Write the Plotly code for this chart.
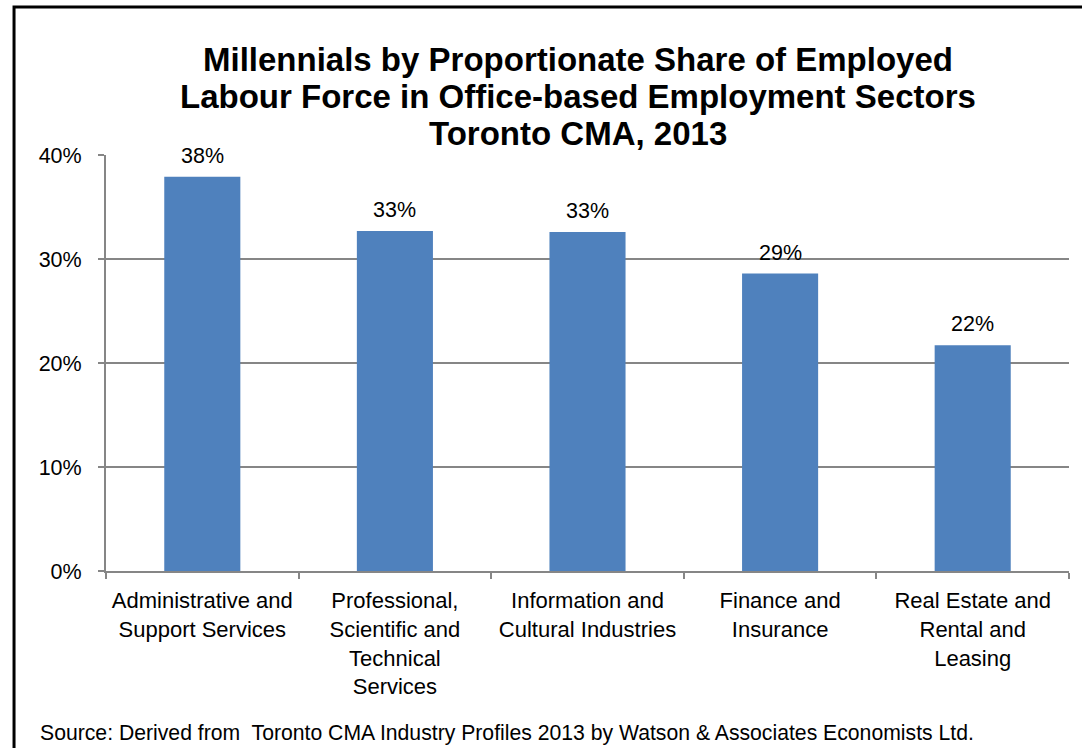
import plotly.graph_objects as go

sectors = [
    "Administrative and<br>Support Services",
    "Professional,<br>Scientific and<br>Technical<br>Services",
    "Information and<br>Cultural Industries",
    "Finance and<br>Insurance",
    "Real Estate and<br>Rental and<br>Leasing",
]
share = [0.379, 0.327, 0.326, 0.286, 0.217]
y_ticks = [0, 0.1, 0.2, 0.3, 0.4]
y_tick_labels = ["0%", "10%", "20%", "30%", "40%"]
title_lines = [
    "Millennials by Proportionate Share of Employed",
    "Labour Force in Office-based Employment Sectors",
    "Toronto CMA, 2013",
]
source_note = "Source: Derived from  Toronto CMA Industry Profiles 2013 by Watson & Associates Economists Ltd."

FONT = "Liberation Sans, Arial, sans-serif"
AXIS_GREY = "#868686"

fig = go.Figure(
    go.Bar(
        x=sectors,
        y=share,
        marker=dict(color="#4f81bd", line=dict(width=0)),
        cliponaxis=False,
    )
)

fig.update_layout(
    width=1082,
    height=748,
    margin=dict(l=106, r=13, t=155, b=177),
    paper_bgcolor="white",
    plot_bgcolor="white",
    bargap=0.605,
    showlegend=False,
    font=dict(family=FONT, color="#000000"),
    xaxis=dict(
        showline=True,
        linecolor=AXIS_GREY,
        linewidth=2,
        ticks="outside",
        tickson="boundaries",
        ticklen=6,
        tickcolor=AXIS_GREY,
        tickwidth=2,
        ticklabelstandoff=9,
        tickfont=dict(family=FONT, size=22, color="#000000"),
        showgrid=False,
    ),
    yaxis=dict(
        range=[0, 0.4],
        tickvals=y_ticks,
        ticktext=y_tick_labels,
        showline=True,
        linecolor=AXIS_GREY,
        linewidth=2,
        ticks="outside",
        ticklen=6,
        tickcolor=AXIS_GREY,
        tickwidth=2,
        ticklabelstandoff=12,
        showgrid=True,
        gridcolor=AXIS_GREY,
        gridwidth=1.5,
        zeroline=False,
        tickfont=dict(family=FONT, size=21.5, color="#000000"),
    ),
)

# Value labels above each bar
for sector, v in zip(sectors, share):
    fig.add_annotation(
        x=sector, y=v, xref="x", yref="y",
        text=f"{v:.0%}",
        showarrow=False,
        yanchor="bottom",
        yshift=7,
        font=dict(family=FONT, size=21.5, color="#000000"),
    )

# Chart title, one annotation per line for tight leading
for i, line in enumerate(title_lines):
    fig.add_annotation(
        text=f"<b>{line}</b>",
        xref="paper", yref="paper",
        x=0.49, y=1.0, yshift=96 - 37 * i,
        xanchor="center", yanchor="middle",
        showarrow=False,
        font=dict(family=FONT, size=33, color="#000000"),
    )

# Source note
fig.add_annotation(
    text=source_note,
    xref="paper", yref="paper",
    x=-0.071, y=0, yshift=-162,
    xanchor="left", yanchor="middle",
    showarrow=False,
    font=dict(family=FONT, size=21.2, color="#000000"),
)

# Outer frame
fig.add_shape(
    type="rect",
    xref="paper", yref="paper",
    x0=-0.0955, x1=1.05, y0=-0.5, y1=1.356,
    line=dict(color="#000000", width=3),
    fillcolor="rgba(0,0,0,0)",
    layer="above",
)

fig.write_html("out.html")
